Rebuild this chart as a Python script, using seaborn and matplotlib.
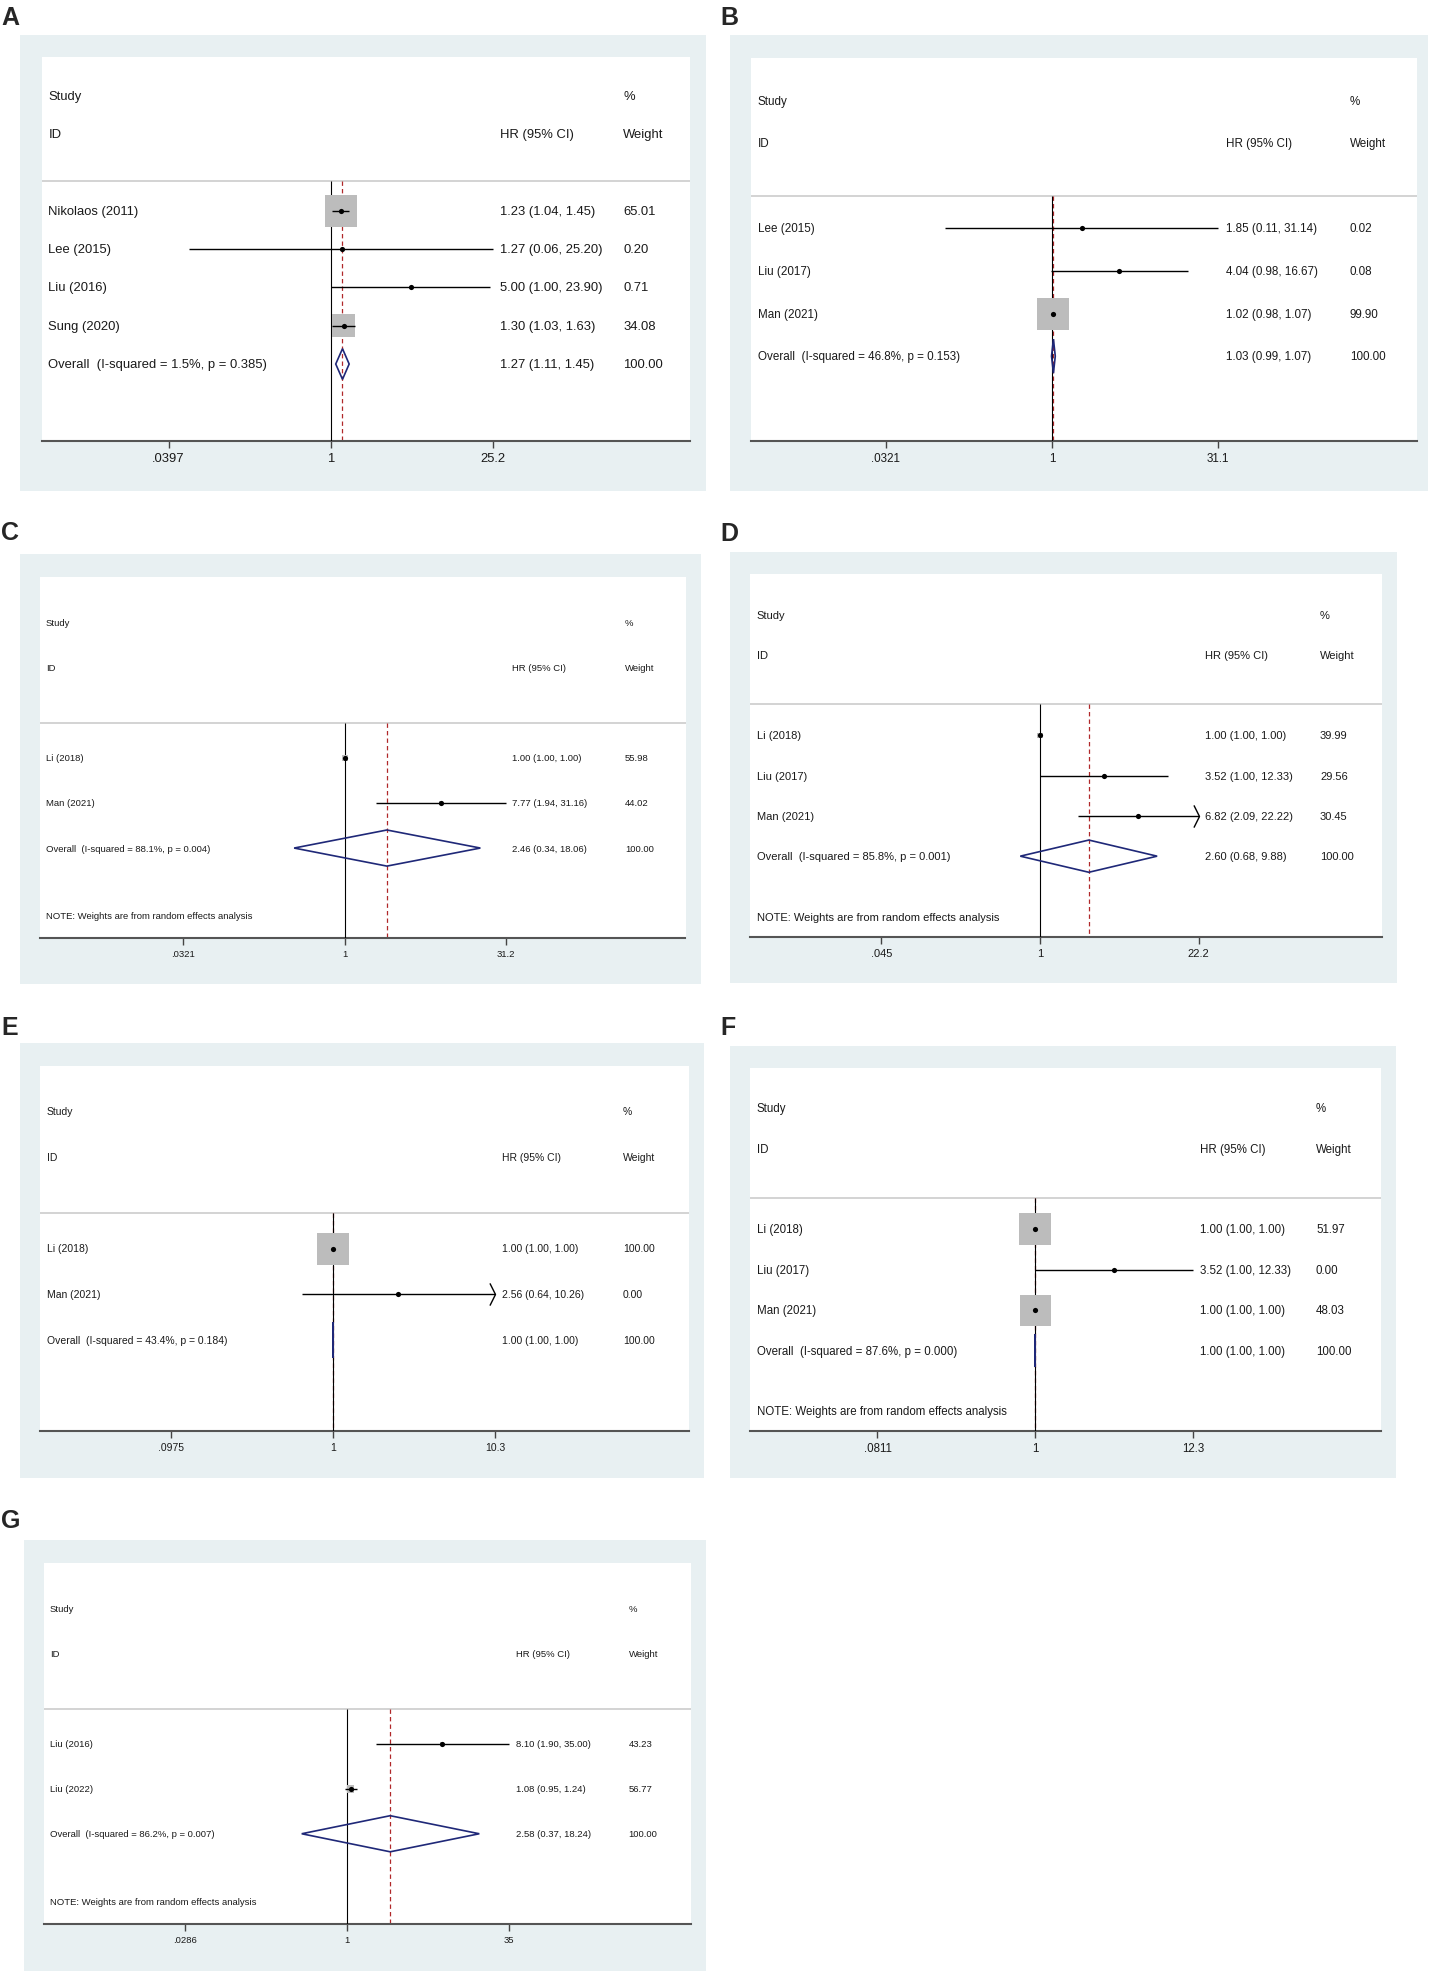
import numpy as np
import matplotlib
matplotlib.use('Agg')
import matplotlib.pyplot as plt
from matplotlib.patches import Rectangle, Polygon
from matplotlib.path import Path
from matplotlib import font_manager
import seaborn as sns

# ---------------- data ----------------
a_study = ['Nikolaos (2011)', 'Lee (2015)', 'Liu (2016)', 'Sung (2020)']
a_hr = [1.23, 1.27, 5.00, 1.30]
a_lo = [1.04, 0.06, 1.00, 1.03]
a_hi = [1.45, 25.20, 23.90, 1.63]
a_wt = [65.01, 0.20, 0.71, 34.08]
a_overall = [1.27, 1.11, 1.45]
a_i2, a_p = '1.5', '0.385'
a_ticks = ['.0397', '1', '25.2']

b_study = ['Lee (2015)', 'Liu (2017)', 'Man (2021)']
b_hr = [1.85, 4.04, 1.02]
b_lo = [0.11, 0.98, 0.98]
b_hi = [31.14, 16.67, 1.07]
b_wt = [0.02, 0.08, 99.90]
b_overall = [1.03, 0.99, 1.07]
b_i2, b_p = '46.8', '0.153'
b_ticks = ['.0321', '1', '31.1']

c_study = ['Li (2018)', 'Man (2021)']
c_hr = [1.00, 7.77]
c_lo = [1.00, 1.94]
c_hi = [1.00, 31.16]
c_wt = [55.98, 44.02]
c_box = [0.035, 0.016]          # relative box areas as seen (fixed-effect weights)
c_overall = [2.46, 0.34, 18.06]
c_i2, c_p = '88.1', '0.004'
c_ticks = ['.0321', '1', '31.2']

d_study = ['Li (2018)', 'Liu (2017)', 'Man (2021)']
d_hr = [1.00, 3.52, 6.82]
d_lo = [1.00, 1.00, 2.09]
d_hi = [1.00, 12.33, 22.22]
d_wt = [39.99, 29.56, 30.45]
d_box = [0.025, 0.01, 0.01]
d_arrow = [False, False, True]
d_overall = [2.60, 0.68, 9.88]
d_i2, d_p = '85.8', '0.001'
d_ticks = ['.045', '1', '22.2']

e_study = ['Li (2018)', 'Man (2021)']
e_hr = [1.00, 2.56]
e_lo = [1.00, 0.64]
e_hi = [1.00, 10.26]
e_wt = [100.00, 0.00]
e_arrow = [False, True]
e_overall = [1.00, 1.00, 1.00]
e_i2, e_p = '43.4', '0.184'
e_ticks = ['.0975', '1', '10.3']

f_study = ['Li (2018)', 'Liu (2017)', 'Man (2021)']
f_hr = [1.00, 3.52, 1.00]
f_lo = [1.00, 1.00, 1.00]
f_hi = [1.00, 12.33, 1.00]
f_wt = [51.97, 0.00, 48.03]
f_overall = [1.00, 1.00, 1.00]
f_i2, f_p = '87.6', '0.000'
f_ticks = ['.0811', '1', '12.3']

g_study = ['Liu (2016)', 'Liu (2022)']
g_hr = [8.10, 1.08]
g_lo = [1.90, 0.95]
g_hi = [35.00, 1.24]
g_wt = [43.23, 56.77]
g_box = [0.015, 0.06]
g_overall = [2.58, 0.37, 18.24]
g_i2, g_p = '86.2', '0.007'
g_ticks = ['.0286', '1', '35']

NOTE = 'NOTE: Weights are from random effects analysis'

# ---------------- style ----------------
sns.set_theme(style='white')
names = {f.name for f in font_manager.fontManager.ttflist}
REG = ['Liberation Sans', 'DejaVu Sans']
NAR = ['Liberation Sans Narrow', 'Liberation Sans', 'DejaVu Sans']
has_narrow = 'Liberation Sans Narrow' in names
plt.rcParams['font.family'] = REG

W, H = 1433, 1974
fig = plt.figure(figsize=(W / 100, H / 100), dpi=100)
fig.patch.set_facecolor('white')

BG = '#e8f0f2'
BOX = '#bcbcbc'
RED = '#b0282a'
NAVY = '#1f2878'

chev = Path([(-0.25, 0.5), (0, 0), (-0.25, -0.5)],
            [Path.MOVETO, Path.LINETO, Path.LINETO])


def px2fig(x0, y0, x1, y1):
    return [x0 / W, 1 - y1 / H, (x1 - x0) / W, (y1 - y0) / H]


def panel(letter, lay, study, hr, lo, hi, wt, overall, i2, p, ticks,
          box=None, arrow=None, note=False, narrow=False):
    fam, fs = REG, lay['fs']
    if narrow and has_narrow:
        fam, fs = NAR, lay['fs_n']
    hr, lo, hi, wt = map(np.asarray, (hr, lo, hi, wt))
    n = len(study)
    rows = np.arange(n)
    ov = n
    bottom = ov + 2

    ox0, oy0, ox1, oy1 = lay['outer']
    fig.add_artist(Rectangle((ox0 / W, 1 - oy1 / H), (ox1 - ox0) / W, (oy1 - oy0) / H,
                             transform=fig.transFigure, facecolor=BG,
                             edgecolor='none', zorder=-5))
    fig.text(lay['lab'][0] / W, 1 - lay['lab'][1] / H, letter, fontsize=18,
             fontweight='bold', ha='left', va='top', family=REG)

    x0, yt, x1, yb = lay['inner']
    ax = fig.add_axes(px2fig(x0, yt, x1, yb))
    ax.set_facecolor('white')

    # study point estimates
    sns.scatterplot(x=hr, y=rows, color='black', s=14, marker='o',
                    linewidth=0, ax=ax, zorder=7, legend=False)

    tick_vals = [float(t) for t in ticks]
    ppl = (lay['hi_px'] - lay['one_px']) / np.log(tick_vals[2])
    ax.set_xscale('log')
    ax.set_xlim(np.exp((x0 - lay['one_px']) / ppl), np.exp((x1 - lay['one_px']) / ppl))
    ax.set_ylim(bottom, -4)

    hdr = -0.77
    ax.axhline(hdr, color='#c8c8c8', lw=1.1, zorder=1)
    ax.vlines(overall[0], hdr, bottom, colors=RED, linestyles=(0, (3.5, 2.5)),
              lw=0.9, zorder=2)
    ax.vlines(1, hdr, bottom, colors='black', lw=0.8, zorder=3)

    rel = wt / wt.max() if box is None else np.asarray(box)
    keep = rel > 0
    side = 32 * 0.72 * np.sqrt(rel[keep])
    ax.scatter(hr[keep], rows[keep], s=side ** 2, marker='s', color=BOX,
               linewidths=0, zorder=4)

    ax.hlines(rows, lo, hi, colors='black', lw=1.0, zorder=5)
    if arrow is not None:
        for i, a in enumerate(arrow):
            if a:
                ax.plot([hi[i]], [i], marker=chev, ms=16, mfc='none',
                        mec='black', mew=1.0, zorder=6)

    est, olo, ohi = overall
    ax.add_patch(Polygon([(olo, ov), (est, ov - 0.4), (ohi, ov), (est, ov + 0.4)],
                         closed=True, fill=False, edgecolor=NAVY, lw=1.2, zorder=6))

    # text columns
    tr = ax.get_yaxis_transform()
    c0, c1, c2 = [(c - x0) / (x1 - x0) for c in lay['cols']]
    kw = dict(transform=tr, fontsize=fs, family=fam, va='center', ha='left',
              color='#1a1a1a')
    ax.text(c0, -3, 'Study', **kw)
    ax.text(c0, -2, 'ID', **kw)
    ax.text(c2, -3, '%', **kw)
    ax.text(c1, -2, 'HR (95% CI)', **kw)
    ax.text(c2, -2, 'Weight', **kw)
    for i in range(n):
        ax.text(c0, i, study[i], **kw)
        ax.text(c1, i, f'{hr[i]:.2f} ({lo[i]:.2f}, {hi[i]:.2f})', **kw)
        ax.text(c2, i, f'{wt[i]:.2f}', **kw)
    ax.text(c0, ov, f'Overall  (I-squared = {i2}%, p = {p})', **kw)
    ax.text(c1, ov, f'{est:.2f} ({olo:.2f}, {ohi:.2f})', **kw)
    ax.text(c2, ov, '100.00', **kw)
    if note:
        ax.text(c0, ov + 1.5, NOTE, **kw)

    ax.set_xticks(tick_vals)
    ax.set_xticklabels(ticks, fontsize=fs, family=fam, color='#1a1a1a')
    ax.xaxis.set_minor_locator(matplotlib.ticker.NullLocator())
    ax.set_yticks([])
    ax.set_xlabel('')
    ax.set_ylabel('')
    ax.tick_params(axis='x', bottom=True, direction='out', length=5, width=1,
                   pad=3, colors='#444444', labelcolor='#1a1a1a')
    for s in ['left', 'right', 'top']:
        ax.spines[s].set_visible(False)
    ax.spines['bottom'].set_color('#555555')
    ax.spines['bottom'].set_linewidth(1.5)
    return ax


# pixel layout of each panel (outer box, inner plot, columns)
lay_a = dict(outer=(20, 36, 706, 492), inner=(41.5, 58.3, 690, 441.7), one_px=330.5,
             hi_px=492.5, cols=(48.5, 500, 623), fs=9.4, fs_n=9.4, lab=(1, 6))
lay_b = dict(outer=(730, 36, 1428, 492), inner=(751, 59, 1417, 442.3), one_px=1052,
             hi_px=1218, cols=(758, 1225.5, 1350), fs=8.4, fs_n=8.4, lab=(720, 6))
lay_c = dict(outer=(20, 555, 700.6, 985), inner=(40, 578.3, 685.5, 939.3), one_px=344.7,
             hi_px=506, cols=(46, 512, 625), fs=6.8, fs_n=8.3, lab=(1, 521))
lay_d = dict(outer=(730, 553.3, 1397, 984), inner=(750, 575.3, 1382, 937.7), one_px=1040,
             hi_px=1198.5, cols=(756.6, 1205, 1320), fs=8.0, fs_n=8.0, lab=(720, 522))
lay_e = dict(outer=(20, 1044.3, 704, 1479), inner=(40, 1066.7, 688.5, 1432.3), one_px=333,
             hi_px=495, cols=(46.6, 502, 623), fs=7.5, fs_n=9.1, lab=(1, 1016))
lay_f = dict(outer=(730, 1046.7, 1396, 1479), inner=(750, 1069, 1381, 1432.3), one_px=1035.3,
             hi_px=1193, cols=(756.6, 1200, 1316), fs=8.3, fs_n=8.3, lab=(720, 1016))
lay_g = dict(outer=(24, 1541, 706, 1972), inner=(43.8, 1564, 691, 1925), one_px=347,
             hi_px=509, cols=(49.8, 515.5, 628.6), fs=6.8, fs_n=8.3, lab=(1, 1509))

panel('A', lay_a, a_study, a_hr, a_lo, a_hi, a_wt, a_overall, a_i2, a_p, a_ticks)
panel('B', lay_b, b_study, b_hr, b_lo, b_hi, b_wt, b_overall, b_i2, b_p, b_ticks)
panel('C', lay_c, c_study, c_hr, c_lo, c_hi, c_wt, c_overall, c_i2, c_p, c_ticks,
      box=c_box, note=True, narrow=True)
panel('D', lay_d, d_study, d_hr, d_lo, d_hi, d_wt, d_overall, d_i2, d_p, d_ticks,
      box=d_box, arrow=d_arrow, note=True)
panel('E', lay_e, e_study, e_hr, e_lo, e_hi, e_wt, e_overall, e_i2, e_p, e_ticks,
      arrow=e_arrow, narrow=True)
panel('F', lay_f, f_study, f_hr, f_lo, f_hi, f_wt, f_overall, f_i2, f_p, f_ticks,
      note=True)
panel('G', lay_g, g_study, g_hr, g_lo, g_hi, g_wt, g_overall, g_i2, g_p, g_ticks,
      box=g_box, note=True, narrow=True)

fig.savefig('out.png', dpi=100)
